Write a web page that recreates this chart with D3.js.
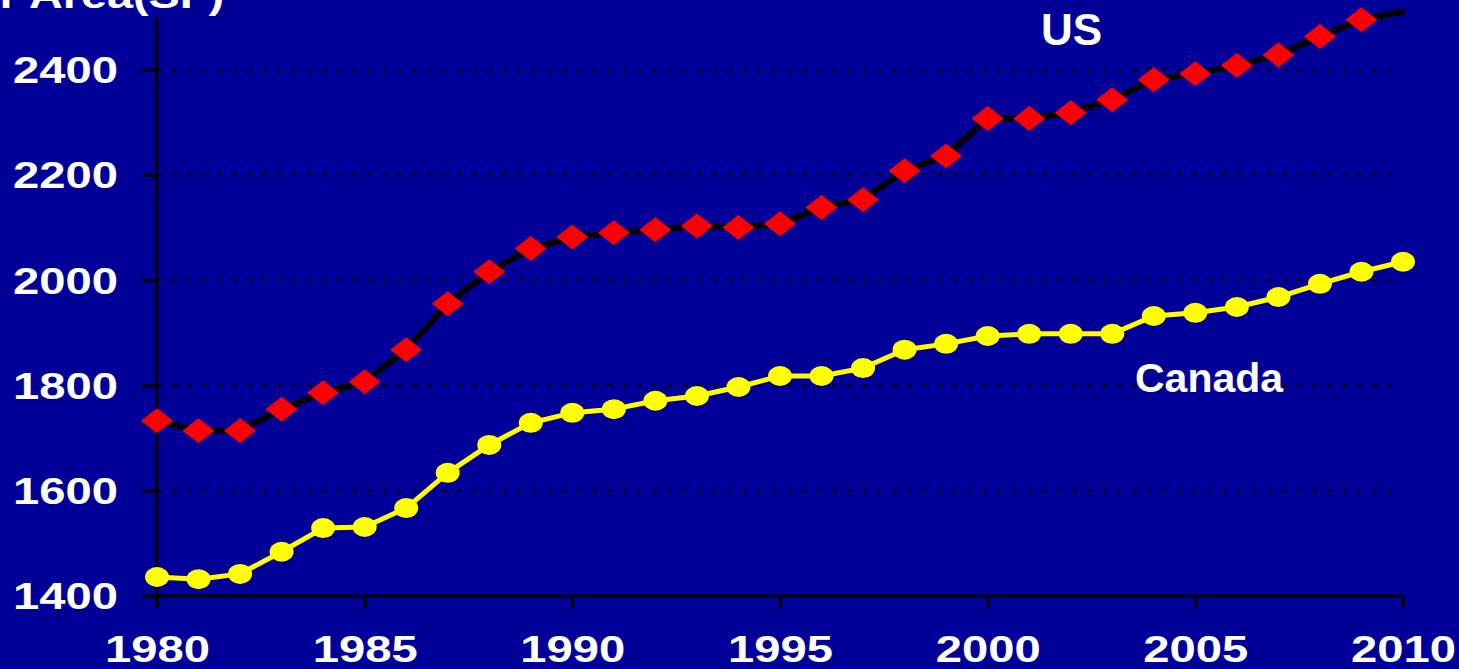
<!DOCTYPE html>
<html>
<head>
<meta charset="utf-8">
<script src="https://cdn.jsdelivr.net/npm/d3@7"></script>
<style>
  body { margin: 0; background: #000099; }
  text { font-family: 'Liberation Sans', Arial, sans-serif; font-weight: bold; fill: #fff; }
</style>
</head>
<body>
<div id="chart"></div>
<script>
// data
const years = d3.range(1980, 2011);
const usArea = [1733, 1714, 1714, 1755, 1786, 1807, 1868, 1955, 2016, 2060,
  2082, 2090, 2096, 2103, 2100, 2107, 2138, 2153, 2208, 2236,
  2307, 2307, 2318, 2343, 2381, 2392, 2408, 2428, 2463, 2495, 2510];
const canadaArea = [1436, 1432, 1442, 1484, 1529, 1531, 1567, 1634, 1687, 1729,
  1748, 1755, 1771, 1780, 1797, 1818, 1818, 1833, 1868, 1879,
  1894, 1898, 1898, 1898, 1932, 1938, 1949, 1968, 1993, 2016, 2035];
const yTicks = [1400, 1600, 1800, 2000, 2200, 2400];
const xTicks = [1980, 1985, 1990, 1995, 2000, 2005, 2010];

///////// Initialization //////////
const margin = { top: 17, right: 56, bottom: 73, left: 157 };
const width = 1459 - margin.left - margin.right;
const height = 669 - margin.top - margin.bottom;

const svg = d3
  .select('#chart')
  .append('svg')
  .attr('width', width + margin.left + margin.right)
  .attr('height', height + margin.top + margin.bottom);

svg.append('rect')
  .attr('width', 1459)
  .attr('height', 669)
  .attr('fill', '#000099');

// axis title, mostly cut off at the top edge (as in the original slide)
svg.append('text')
  .attr('transform', 'translate(224,8) scale(1.3,1)')
  .attr('text-anchor', 'end')
  .style('font-size', '36px')
  .text('Average Floor Area(SF)');

const group = svg
  .append('g')
  .attr('transform', 'translate(' + margin.left + ',' + margin.top + ')');

const xScale = d3.scaleLinear().domain([1980, 2010]).range([0, width]);
const yScale = d3.scaleLinear().domain([1400, 2500]).range([height, 0]);

// dashed gridlines
group.selectAll('.grid')
  .data(yTicks.filter((d) => d > 1400))
  .enter()
  .append('line')
  .attr('class', 'grid')
  .attr('x1', 0)
  .attr('x2', width - 8)
  .attr('y1', (d) => yScale(d))
  .attr('y2', (d) => yScale(d))
  .attr('stroke', '#000')
  .attr('stroke-width', 2)
  .attr('stroke-dasharray', '5 10');

// axes
const yAxis = d3.axisLeft(yScale).tickValues(yTicks).tickSize(15).tickPadding(24).tickFormat(d3.format('d'));
const xAxis = d3.axisBottom(xScale).tickValues(xTicks).tickSize(12).tickPadding(28).tickFormat(d3.format('d'));

const yAxisGroup = group.append('g').call(yAxis);
const xAxisGroup = group.append('g').attr('transform', 'translate(0,' + height + ')').call(xAxis);

[yAxisGroup, xAxisGroup].forEach((g) => {
  g.select('.domain').remove();
  g.selectAll('line').attr('stroke', '#000').attr('stroke-width', 3);
  g.selectAll('text')
    .style('font-size', '36px')
    .attr('fill', '#fff')
    .attr('textLength', 105)
    .attr('lengthAdjust', 'spacingAndGlyphs');
});
yAxisGroup.selectAll('text').attr('dy', '0.36em');

// axis lines
group.append('line')
  .attr('x1', 0).attr('x2', 0)
  .attr('y1', 0).attr('y2', height + 12)
  .attr('stroke', '#000').attr('stroke-width', 3);
group.append('line')
  .attr('x1', -15).attr('x2', width)
  .attr('y1', height).attr('y2', height)
  .attr('stroke', '#000').attr('stroke-width', 3);

// lines
const line = (values) => d3.line()
  .x((d, i) => xScale(years[i]))
  .y((d) => yScale(d))(values);

group.append('path')
  .attr('d', line(usArea))
  .attr('fill', 'none')
  .attr('stroke', '#000')
  .attr('stroke-width', 6)
  .attr('stroke-linejoin', 'round')
  .attr('stroke-linecap', 'round');

group.append('path')
  .attr('d', line(canadaArea))
  .attr('fill', 'none')
  .attr('stroke', '#ffff00')
  .attr('stroke-width', 5)
  .attr('stroke-linejoin', 'round');

// markers (points above the plot area are not drawn)
group.selectAll('.us-marker')
  .data(usArea.filter((d) => d <= 2500))
  .enter()
  .append('path')
  .attr('class', 'us-marker')
  .attr('transform', (d, i) => 'translate(' + xScale(years[i]) + ',' + yScale(d) + ')')
  .attr('d', 'M-16,0L0,-12.5L16,0L0,12.5Z')
  .attr('fill', '#ff0000');

group.selectAll('.ca-marker')
  .data(canadaArea)
  .enter()
  .append('ellipse')
  .attr('class', 'ca-marker')
  .attr('cx', (d, i) => xScale(years[i]))
  .attr('cy', (d) => yScale(d))
  .attr('rx', 12)
  .attr('ry', 10)
  .attr('fill', '#ffff00');

// series labels
svg.append('text')
  .attr('x', 1041)
  .attr('y', 45)
  .style('font-size', '44px')
  .text('US');

svg.append('text')
  .attr('x', 1135)
  .attr('y', 392)
  .style('font-size', '41px')
  .text('Canada');
</script>
</body>
</html>
